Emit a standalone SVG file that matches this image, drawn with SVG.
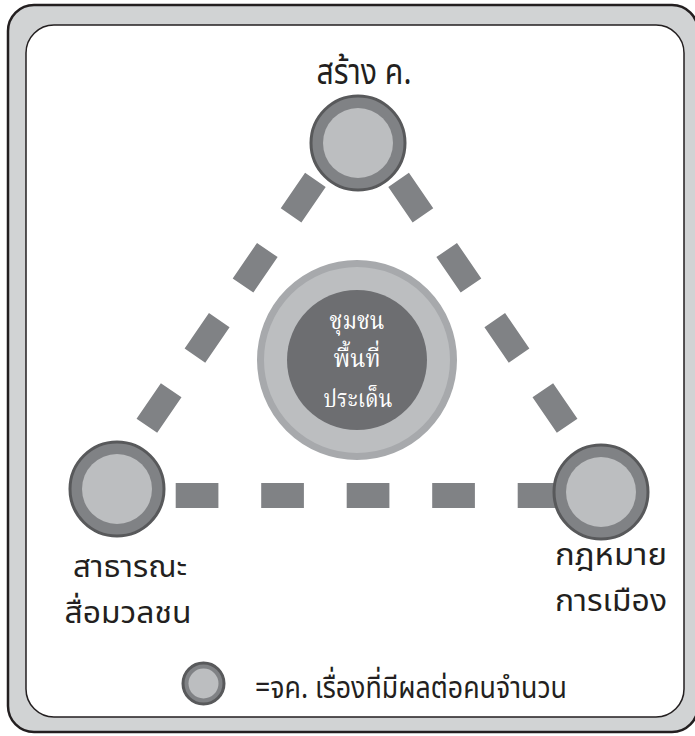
<svg xmlns="http://www.w3.org/2000/svg" width="695" height="736" viewBox="0 0 695 736">
<defs>
<style>
.frame{fill:#d1d3d4;stroke:#231f20;stroke-width:2.5}
.panel{fill:#ffffff;stroke:#231f20;stroke-width:1.5}
.dash{fill:none;stroke:#808285;stroke-width:25}
.ring{fill:#808285;stroke:#58595b;stroke-width:3}
.core{fill:#bcbec0}
.lbl{font-family:'Noto Sans Thai','Loma','Garuda','Tlwg Typo','DejaVu Sans','Noto Sans',sans-serif;fill:#231f20;text-anchor:middle}
.ctr{font-family:'Noto Serif Thai','Noto Sans Thai','Loma','Garuda','DejaVu Serif','Noto Sans',serif;fill:#ffffff;text-anchor:middle}
</style>
</defs>
<rect class="frame" x="8" y="5" width="690" height="727" rx="26"/>
<rect class="panel" x="26" y="25" width="658" height="692" rx="28"/>
<g id="connectors">
<line class="dash" x1="98.8" y1="495.8" x2="363.2" y2="110.2" stroke-dasharray="43 42"/>
<line class="dash" x1="615.2" y1="495.8" x2="350.8" y2="110.2" stroke-dasharray="43 42"/>
<line class="dash" x1="90.2" y1="495.5" x2="600" y2="495.5" stroke-dasharray="42.7 42.8"/>
</g>
<g id="center">
<circle cx="357" cy="360" r="96.5" fill="#bcbec0" stroke="#a7a9ac" stroke-width="7"/>
<circle cx="357" cy="360" r="70" fill="#6d6e71"/>
<text class="ctr" font-size="25"><tspan x="357" y="329" textLength="55" lengthAdjust="spacingAndGlyphs">ชุมชน</tspan><tspan x="357" y="367" textLength="47" lengthAdjust="spacingAndGlyphs">พื้นที่</tspan><tspan x="358" y="407" textLength="69" lengthAdjust="spacingAndGlyphs">ประเด็น</tspan></text>
</g>
<g id="node-top">
<circle class="ring" cx="358" cy="143" r="47"/>
<circle class="core" cx="358" cy="143" r="35"/>
<text class="lbl" x="364" y="84" font-size="36" textLength="95" lengthAdjust="spacingAndGlyphs">สร้าง ค.</text>
</g>
<g id="node-left">
<circle class="ring" cx="117" cy="489" r="47"/>
<circle class="core" cx="117" cy="489" r="35"/>
<text class="lbl" font-size="30"><tspan x="130" y="577" textLength="114" lengthAdjust="spacingAndGlyphs">สาธารณะ</tspan><tspan x="128" y="623" textLength="127" lengthAdjust="spacingAndGlyphs">สื่อมวลชน</tspan></text>
</g>
<g id="node-right">
<circle class="ring" cx="601" cy="492" r="47"/>
<circle class="core" cx="601" cy="492" r="35"/>
<text class="lbl" font-size="30"><tspan x="611" y="565" textLength="112" lengthAdjust="spacingAndGlyphs">กฎหมาย</tspan><tspan x="611" y="611" textLength="112" lengthAdjust="spacingAndGlyphs">การเมือง</tspan></text>
</g>
<g id="legend">
<circle class="ring" cx="203.5" cy="683.5" r="20.5" stroke-width="2"/>
<circle class="core" cx="203.5" cy="683.5" r="15"/>
<text class="lbl" x="411" y="698" font-size="31" textLength="312" lengthAdjust="spacingAndGlyphs">=จค. เรื่องที่มีผลต่อคนจำนวน</text>
</g>
</svg>
